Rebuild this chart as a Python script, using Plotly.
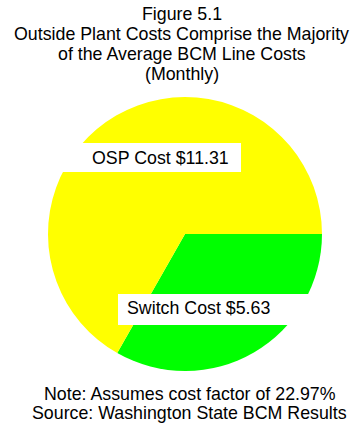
import plotly.graph_objects as go

# Data
categories = ["Switch Cost", "OSP Cost"]
values = [5.63, 11.31]
colors = ["#00FF00", "#FFFF00"]
label_texts = ["Switch Cost $5.63", "OSP Cost $11.31"]
title_lines = [
    "Figure 5.1",
    "Outside Plant Costs Comprise the Majority",
    "of the Average BCM Line Costs",
    "(Monthly)",
]
note_lines = [
    "Note: Assumes cost factor of 22.97%",
    "Source: Washington State BCM Results",
]

W, H = 363, 435
FONT = "Liberation Sans, Arial, Helvetica, sans-serif"
FS = 17.8


def px(x):
    return x / W


def py(y):
    return 1 - y / H


cx, cy, r = 185, 234, 137

fig = go.Figure(
    go.Pie(
        labels=categories,
        values=values,
        sort=False,
        direction="clockwise",
        rotation=90,
        marker=dict(colors=colors, line=dict(width=0)),
        textinfo="none",
        hoverinfo="label+value",
        showlegend=False,
        domain=dict(x=[px(cx - r), px(cx + r)], y=[py(cy + r), py(cy - r)]),
    )
)

annotations = []
title_y = [14, 34, 54, 74]
for t, y in zip(title_lines, title_y):
    annotations.append(dict(text=t, x=px(182), y=py(y), xref="paper", yref="paper",
                            xanchor="center", yanchor="middle", showarrow=False,
                            font=dict(family=FONT, size=FS, color="black")))
note_y = [394, 413.3]
for t, y in zip(note_lines, note_y):
    annotations.append(dict(text=t, x=px(190), y=py(y), xref="paper", yref="paper",
                            xanchor="center", yanchor="middle", showarrow=False,
                            font=dict(family=FONT, size=FS, color="black")))

# slice labels (left edge of text, vertical centre)
label_pos = [(125, 308.3), (90, 158.3)]
for t, (x, y) in zip(label_texts, label_pos):
    annotations.append(dict(text=t, x=px(x), y=py(y), xref="paper", yref="paper",
                            xanchor="left", yanchor="middle", showarrow=False,
                            font=dict(family=FONT, size=FS, color="black")))

shapes = [
    dict(type="rect", xref="paper", yref="paper", x0=px(118), x1=px(330),
         y0=py(325), y1=py(294), fillcolor="white", line=dict(width=0), layer="above"),
    dict(type="rect", xref="paper", yref="paper", x0=px(40), x1=px(241),
         y0=py(172), y1=py(143), fillcolor="white", line=dict(width=0), layer="above"),
]

fig.update_layout(
    width=W, height=H,
    margin=dict(l=0, r=0, t=0, b=0),
    paper_bgcolor="white", plot_bgcolor="white",
    annotations=annotations, shapes=shapes,
)

fig.write_html(
    "out.html",
    config={"displayModeBar": False},
    post_script="document.body.style.margin='0';document.body.style.overflow='hidden';",
)
